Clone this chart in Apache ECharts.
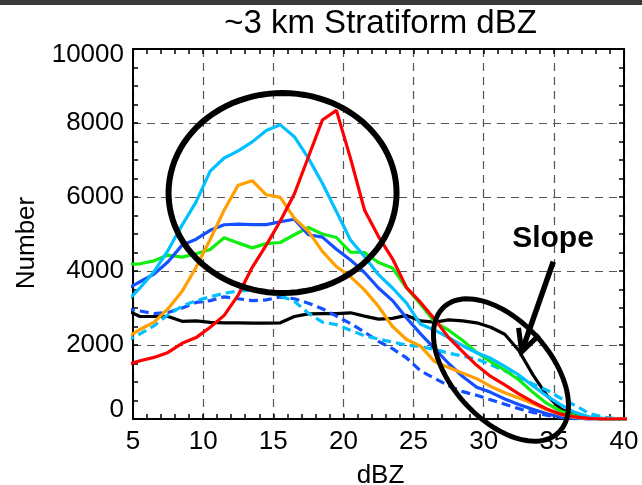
<!DOCTYPE html>
<html><head><meta charset="utf-8">
<script src="https://cdn.jsdelivr.net/npm/echarts@6/dist/echarts.min.js"></script>
<style>html,body{margin:0;padding:0;background:#fff;}#c{width:642px;height:485px;}</style>
</head><body><div id="c"></div>
<script>
// dBZ bin centres (lines are clipped to the 5-40 axis range)
const dbz = [4.5,5.5,6.5,7.5,8.5,9.5,10.5,11.5,12.5,13.5,14.5,15.5,16.5,17.5,18.5,19.5,20.5,21.5,22.5,23.5,24.5,25.5,26.5,27.5,28.5,29.5,30.5,31.5,32.5,33.5,34.5,35.5,36.5,37.5,38.5,39.5,40.5];

const redVals    = [1460,1575,1665,1800,2045,2200,2480,2800,3350,4100,4700,5350,6080,7080,8080,8340,7050,5650,4930,4330,3550,3150,2700,2200,1820,1450,1150,920,680,460,270,130,55,15,0,0,0];
const orangeVals = [2180,2420,2620,2980,3450,4100,4850,5650,6320,6440,6060,5990,5430,5070,4530,4120,3850,3490,3040,2500,2150,1970,1550,1390,1240,1090,880,710,565,420,250,120,40,10,0,0,0];
const greenVals  = [4180,4195,4275,4430,4375,4465,4580,4900,4760,4625,4740,4770,4980,5175,5000,4905,4510,4500,4230,4080,3540,3100,2620,2400,2120,1800,1550,1320,1060,720,420,210,85,25,5,0,0];
const blueVals   = [3500,3710,3915,4250,4700,4860,5100,5250,5265,5255,5255,5330,5400,4980,4915,4590,4300,3960,3540,3200,2730,2300,1900,1500,1150,860,720,540,390,260,140,60,20,5,0,0,0];
const cyanVals   = [3150,3545,3980,4560,5240,5870,6700,7055,7245,7490,7800,7950,7630,7050,6370,5610,4840,4390,3900,3540,3130,2560,2400,2200,1980,1790,1640,1420,1190,900,620,380,180,60,15,0,0];
const cyanDashVals = [2100,2300,2520,2820,3050,3200,3300,3400,3460,3480,3420,3330,3180,2860,2620,2550,2400,2250,2160,2080,2000,1960,1880,1780,1700,1620,1470,1300,1130,950,780,560,370,150,50,10,0];
const blueDashVals = [2980,2920,2850,2880,3000,3150,3200,3300,3250,3200,3220,3300,3250,3130,2980,2780,2580,2350,2100,1900,1650,1300,1100,900,740,640,520,400,280,180,100,40,10,0,0,0,0];
const blackVals  = [2950,2770,2770,2770,2640,2650,2610,2600,2600,2590,2590,2600,2770,2840,2850,2850,2870,2780,2700,2720,2800,2650,2620,2680,2650,2600,2480,2290,1850,1200,640,270,90,20,5,0,0];

const xTicks = [5,10,15,20,25,30,35,40];
const yTicks = [0,2000,4000,6000,8000,10000];

const titleText = '~3 km Stratiform dBZ';
const xName = 'dBZ';
const yName = 'Number';
const noteText = 'Slope';

const FONT = '"Liberation Sans", Arial, Helvetica, sans-serif';

const seriesDefs = [
  {name:'black', vals: blackVals, color:'#000000', dash:false},
  {name:'blueDash', vals: blueDashVals, color:'#1450ff', dash:true},
  {name:'cyanDash', vals: cyanDashVals, color:'#00c0ff', dash:true},
  {name:'green', vals: greenVals, color:'#10ee10', dash:false},
  {name:'blue', vals: blueVals, color:'#1450ff', dash:false},
  {name:'cyan', vals: cyanVals, color:'#00c0ff', dash:false},
  {name:'orange', vals: orangeVals, color:'#ffa000', dash:false},
  {name:'red', vals: redVals, color:'#ff0000', dash:false}
];

const chart = echarts.init(document.getElementById('c'), null, {renderer:'canvas'});

function axisCommon(isX, pos, showLabel) {
  return {
    type:'value', position: pos,
    min: isX ? xTicks[0] : yTicks[0],
    max: isX ? xTicks[xTicks.length-1] : yTicks[yTicks.length-1],
    interval: isX ? 5 : 2000,
    axisLine:{show:true, onZero:false, lineStyle:{color:'#000', width:2}},
    axisTick:{show:true, inside:true, length:5, lineStyle:{color:'#000', width:1.5}},
    minorTick:{show:true, splitNumber: isX ? 5 : 4, length:5, lineStyle:{color:'#000', width:1.5}},
    splitLine:{show: showLabel, lineStyle:{color:'#555', type:[8,6], width:1.2}},
    axisLabel: showLabel ? (isX ? {
      show:true, color:'#000', fontSize:26, fontFamily:FONT, margin:10, showMinLabel:true, showMaxLabel:true, hideOverlap:false
    } : {
      show:true, color:'#000', fontSize:26, fontFamily:FONT, margin:9, showMinLabel:true, showMaxLabel:true, hideOverlap:false,
      formatter: function(v){ if (v === 0) return '{lo|0}'; if (v === 10000) return '{hi|10000}'; return String(v); },
      rich: {
        lo:{fontSize:26, fontFamily:FONT, color:'#000', padding:[0,0,18,0]},
        hi:{fontSize:26, fontFamily:FONT, color:'#000', padding:[12,0,0,0]}
      }
    }) : {show:false}
  };
}

const option = {
  animation:false,
  backgroundColor:'#ffffff',
  grid:{left:133, right:18, top:49, bottom:66, containLabel:false, outerBoundsMode:'none'},
  xAxis:[axisCommon(true,'bottom',true), axisCommon(true,'top',false)],
  yAxis:[axisCommon(false,'left',true), axisCommon(false,'right',false)],
  series: seriesDefs.map(s => ({
    name:s.name, type:'line', xAxisIndex:0, yAxisIndex:0,
    data: dbz.map((x,i)=>[x, s.vals[i]]),
    showSymbol:false, symbol:'none', clip:true, silent:true,
    lineStyle:{color:s.color, width:3.2, type: s.dash ? [9,5] : 'solid'},
    emphasis:{disabled:true}
  }))
};
chart.setOption(option);

// annotation anchors in data space
const ring1 = {center:[15.66, 6108], rx:114, ry:100, width:6};
const ring2 = {center:[31.23, 1324], a:85, b:49, rot:48, width:5};
const arrowFrom = [34.96, 4251];
const arrowTip = [32.71, 1819];
const noteAt = [34.94, 4865];

function px(p){ return chart.convertToPixel({gridIndex:0}, p); }
function ellipsePts(c, a, b, rotDeg){
  const th = rotDeg*Math.PI/180, pts=[];
  for (let k=0;k<96;k++){
    const t = k/96*2*Math.PI;
    pts.push([c[0] + a*Math.cos(th)*Math.cos(t) - b*Math.sin(th)*Math.sin(t),
              c[1] + a*Math.sin(th)*Math.cos(t) + b*Math.cos(th)*Math.sin(t)]);
  }
  return pts;
}
const c1 = px(ring1.center), c2 = px(ring2.center), af = px(arrowFrom), at = px(arrowTip), np = px(noteAt);
const dx = af[0]-at[0], dy = af[1]-at[1], L = Math.hypot(dx,dy), ux = dx/L, uy = dy/L;
const hl = 24, ha = 27*Math.PI/180;
const b1 = [at[0] + hl*(ux*Math.cos(ha) - uy*Math.sin(ha)), at[1] + hl*(ux*Math.sin(ha) + uy*Math.cos(ha))];
const b2 = [at[0] + hl*(ux*Math.cos(-ha) - uy*Math.sin(-ha)), at[1] + hl*(ux*Math.sin(-ha) + uy*Math.cos(-ha))];
const plotMidX = (px([xTicks[0],0])[0] + px([xTicks[xTicks.length-1],0])[0]) / 2;

chart.setOption({
  graphic:[
    {type:'rect', z:200, silent:true, shape:{x:0,y:0,width:642,height:5}, style:{fill:'#3a3a3a'}},
    {type:'text', z:200, silent:true, style:{text:titleText, x:plotMidX+2, y:24, font:'33px '+FONT, fill:'#000', textAlign:'center', textVerticalAlign:'middle'}},
    {type:'text', z:200, silent:true, style:{text:xName, x:plotMidX+2, y:476, font:'26px '+FONT, fill:'#000', textAlign:'center', textVerticalAlign:'middle'}},
    {type:'text', z:200, silent:true, x:27, y:243, rotation:Math.PI/2, style:{text:yName, x:0, y:0, font:'26px '+FONT, fill:'#000', textAlign:'center', textVerticalAlign:'middle'}},
    {type:'polygon', z:200, silent:true, shape:{points: ellipsePts(c1, ring1.rx, ring1.ry, 0)}, style:{fill:'none', stroke:'#000', lineWidth:ring1.width}},
    {type:'polygon', z:200, silent:true, shape:{points: ellipsePts(c2, ring2.a, ring2.b, ring2.rot)}, style:{fill:'none', stroke:'#000', lineWidth:ring2.width}},
    {type:'line', z:200, silent:true, shape:{x1:af[0], y1:af[1], x2:at[0], y2:at[1]}, style:{stroke:'#000', lineWidth:5.5}},
    {type:'polyline', z:200, silent:true, shape:{points:[b1, at, b2]}, style:{fill:'none', stroke:'#000', lineWidth:5, lineJoin:'miter'}},
    {type:'text', z:200, silent:true, style:{text:noteText, x:np[0], y:np[1], font:'bold 30px '+FONT, fill:'#000', textAlign:'center', textVerticalAlign:'middle'}}
  ]
});
</script>
</body></html>
